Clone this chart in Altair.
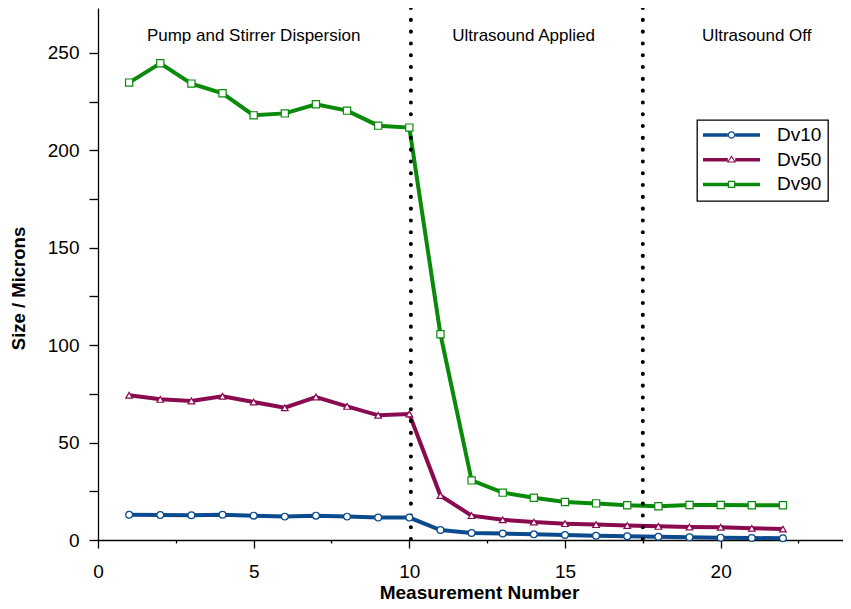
import altair as alt
import pandas as pd

# ---- data ----
measurement = list(range(1, 23))
dv10 = [13.0, 12.8, 12.7, 13.0, 12.5, 12.0, 12.5, 12.0, 11.5, 11.5, 5.1,
        3.6, 3.3, 2.9, 2.6, 2.2, 1.9, 1.7, 1.4, 1.2, 1.0, 0.9]
dv50 = [74.3, 72.2, 71.4, 73.8, 70.8, 67.9, 73.4, 68.6, 64.0, 64.7, 22.8,
        12.5, 10.4, 9.2, 8.4, 7.9, 7.4, 7.0, 6.7, 6.5, 6.0, 5.6]
dv90 = [234.8, 244.7, 234.3, 229.3, 218.0, 219.0, 223.7, 220.4, 212.7, 211.7, 105.6,
        30.6, 24.3, 21.7, 19.5, 18.8, 17.8, 17.3, 18.0, 18.0, 17.8, 17.8]
series_names = ["Dv10", "Dv50", "Dv90"]
series_colors = ["#0b4a8c", "#8a0a50", "#0a8a0a"]
series_shapes = ["circle", "triangle-up", "square"]

phase_boundaries = [10.05, 17.5]
phase_labels = ["Pump and Stirrer Dispersion", "Ultrasound Applied", "Ultrasound Off"]
phase_label_x = [5.0, 13.67, 21.16]
phase_label_y = [256.2, 256.2, 256.2]

x_ticks = [0, 2.5, 5, 7.5, 10, 12.5, 15, 17.5, 20, 22.5]
y_ticks = [0, 25, 50, 75, 100, 125, 150, 175, 200, 225, 250]

rows = []
for name, vals in zip(series_names, [dv10, dv50, dv90]):
    for m, v in zip(measurement, vals):
        rows.append({"Measurement": m, "Size": v, "Series": name})
df = pd.DataFrame(rows)
df_bounds = pd.DataFrame({"x": phase_boundaries})
df_labels = pd.DataFrame({"x": phase_label_x, "y": phase_label_y, "text": phase_labels})

FONT = "Liberation Sans"
W, H = 745, 532

# legend symbols: line with marker (annulus paths, nonzero winding)
line_l = "M-1,-0.062H-0.13V0.062H-1Z"
line_r = "M0.13,-0.062H1V0.062H0.13Z"
circ = ("M0.13,0A0.13,0.13 0 1,1 -0.13,0A0.13,0.13 0 1,1 0.13,0Z"
        "M0.088,0A0.088,0.088 0 1,0 -0.088,0A0.088,0.088 0 1,0 0.088,0Z")
tri = "M0,-0.16L0.16,0.1L-0.16,0.1Z M0,-0.085L-0.095,0.06L0.095,0.06Z"
sq = "M-0.13,-0.13H0.13V0.13H-0.13Z M-0.085,-0.085V0.085H0.085V-0.085Z"
legend_paths = [line_l + line_r + circ, line_l + line_r + tri, line_l + line_r + sq]

x_scale = alt.Scale(domain=[0, 23.93], nice=False, zero=False)
y_scale = alt.Scale(domain=[0, 273.1], nice=False)
# colour scale for the drawn marks takes its domain from the data (sorted: Dv10, Dv50, Dv90)
color_scale = alt.Scale(range=series_colors)

x_axis = alt.Axis(
    values=x_ticks, title="Measurement Number",
    labelExpr="datum.value % 5 === 0 ? datum.label : ''",
    tickSize={"condition": {"test": "datum.value % 5 === 0", "value": 8}, "value": 3},
    labelPadding=14, labelFontSize=19, labelFont=FONT, labelColor="black",
    titleFont=FONT, titleFontSize=19, titleFontWeight="bold", titleColor="black",
    titleX=381, titleY=58, titleBaseline="alphabetic", titleAnchor="middle", titleAlign="center",
    domainColor="black", domainWidth=1.3, tickColor="black", tickWidth=1.3,
    grid=False, labelFlush=False, labelOverlap=False,
)
y_axis = alt.Axis(
    values=y_ticks, title="Size / Microns",
    labelExpr="datum.value % 50 === 0 ? datum.label : ''",
    tickSize=9, labelPadding=10, labelFontSize=19, labelFont=FONT, labelColor="black",
    titleFont=FONT, titleFontSize=18.5, titleFontWeight="bold", titleColor="black",
    titleX=-73.5, titleY=280, titleAngle=-90, titleBaseline="alphabetic", titleAlign="center",
    domainColor="black", domainWidth=1.3, tickColor="black", tickWidth=1.3,
    grid=False, labelFlush=False, labelOverlap=False,
)

base = alt.Chart(df)

lines = base.mark_line(strokeWidth=4).encode(
    x=alt.X("Measurement:Q", scale=x_scale, axis=x_axis),
    y=alt.Y("Size:Q", scale=y_scale, axis=y_axis),
    color=alt.Color("Series:N", scale=color_scale, legend=None),
    detail="Series:N",
)

rules = alt.Chart(df_bounds).mark_rule(
    color="black", strokeWidth=4, strokeDash=[0.1, 11.7], strokeCap="round"
).encode(x=alt.X("x:Q", scale=x_scale))

point_layers = []
for name, shp, sz in zip(series_names, series_shapes, [46, 44, 52]):
    point_layers.append(
        base.transform_filter(alt.datum.Series == name).mark_point(
            shape=shp, filled=False, fill="white", fillOpacity=1, strokeWidth=1.2, size=sz, opacity=1
        ).encode(
            x=alt.X("Measurement:Q", scale=x_scale),
            y=alt.Y("Size:Q", scale=y_scale),
            color=alt.Color("Series:N", scale=color_scale, legend=None),
        )
    )

legend_def = dict(
    title=None, orient="none", legendX=599, legendY=112,
    labelFont=FONT, labelFontSize=19, labelColor="black",
    symbolSize=3249, clipHeight=18, rowPadding=5.7, labelOffset=17,
    padding=6, strokeColor="black", fillColor="white",
    symbolStrokeWidth=0, symbolOpacity=1,
)
legend_layer = base.mark_point(filled=True, size=3249, opacity=1).encode(
    x=alt.X("Measurement:Q", scale=x_scale),
    y=alt.Y("Size:Q", scale=y_scale),
    fill=alt.Fill("Series:N", scale=alt.Scale(domain=series_names, range=series_colors),
                  legend=alt.Legend(**legend_def)),
    shape=alt.Shape("Series:N", scale=alt.Scale(domain=series_names, range=legend_paths),
                    legend=alt.Legend(**legend_def)),
).transform_filter("false")

texts = alt.Chart(df_labels).mark_text(
    font=FONT, fontSize=17, color="black", baseline="alphabetic", align="center"
).encode(
    x=alt.X("x:Q", scale=x_scale),
    y=alt.Y("y:Q", scale=y_scale),
    text="text:N",
)

chart = alt.layer(lines, rules, *point_layers, texts, legend_layer).properties(
    width=W, height=H,
    autosize=alt.AutoSizeParams(type="none"),
    padding={"left": 90, "top": 0, "right": 0, "bottom": 62},
).configure_view(stroke=None).configure_legend(strokeWidth=1.3)

chart.save("out.html", embed_options={"renderer": "svg", "actions": False})
